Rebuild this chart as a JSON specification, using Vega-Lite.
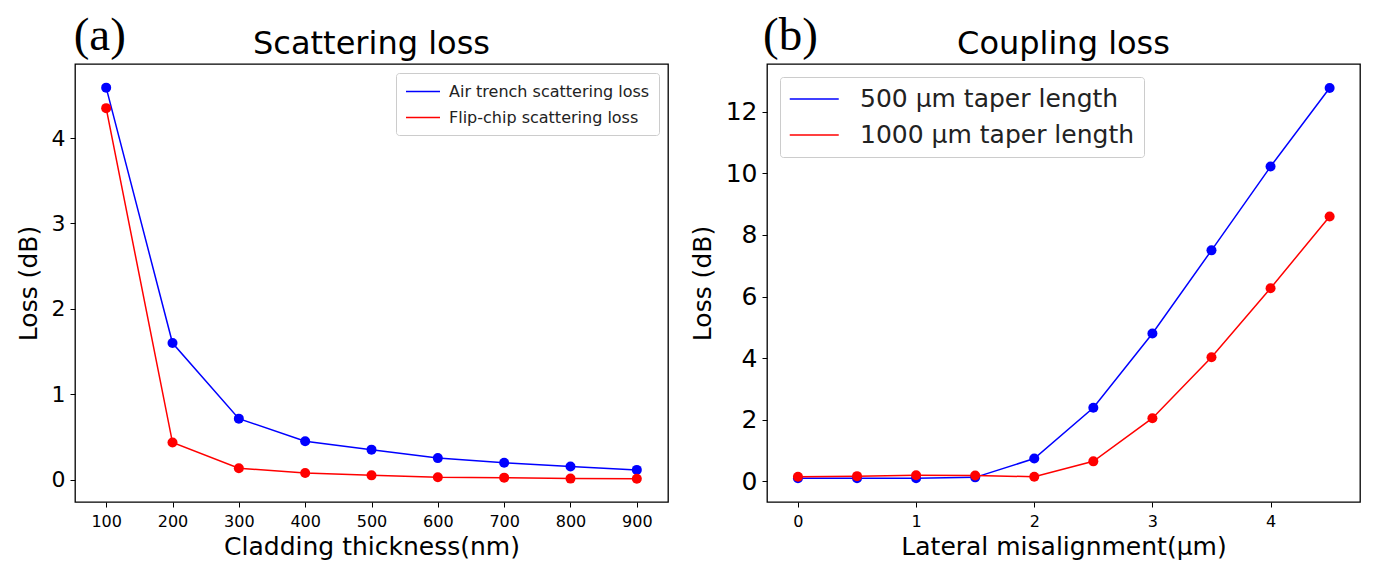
{
  "$schema": "https://vega.github.io/schema/vega-lite/v6.json",
  "background": "white",
  "padding": {"left": 15, "top": 11, "right": 5, "bottom": 5},
  "spacing": 20,
  "resolve": {"scale": {"color": "independent"}, "legend": {"color": "independent"}},
  "config": {
    "font": "DejaVu Sans",
    "view": {"stroke": "black", "strokeWidth": 1.3},
    "axis": {"domain": false, "grid": false, "tickColor": "black", "tickSize": 5, "tickWidth": 1, "labelColor": "black", "titleColor": "black", "labelFont": "DejaVu Sans", "titleFont": "DejaVu Sans", "titleFontWeight": "normal", "labelPadding": 4, "titleFontSize": 25, "format": "d"},
    "title": {"font": "DejaVu Sans", "fontWeight": "normal", "fontSize": 32, "color": "black", "baseline": "alphabetic", "offset": -49}
  },
  "hconcat": [
    {
      "width": 593,
      "height": 438,
      "title": {"text": "Scattering loss", "frame": "group"},
      "data": {"values": [
        {"thickness": 100, "loss": 4.59, "series": "Air trench scattering loss"},
        {"thickness": 200, "loss": 1.60, "series": "Air trench scattering loss"},
        {"thickness": 300, "loss": 0.715, "series": "Air trench scattering loss"},
        {"thickness": 400, "loss": 0.45, "series": "Air trench scattering loss"},
        {"thickness": 500, "loss": 0.352, "series": "Air trench scattering loss"},
        {"thickness": 600, "loss": 0.253, "series": "Air trench scattering loss"},
        {"thickness": 700, "loss": 0.198, "series": "Air trench scattering loss"},
        {"thickness": 800, "loss": 0.154, "series": "Air trench scattering loss"},
        {"thickness": 900, "loss": 0.115, "series": "Air trench scattering loss"},
        {"thickness": 100, "loss": 4.35, "series": "Flip-chip scattering loss"},
        {"thickness": 200, "loss": 0.435, "series": "Flip-chip scattering loss"},
        {"thickness": 300, "loss": 0.134, "series": "Flip-chip scattering loss"},
        {"thickness": 400, "loss": 0.079, "series": "Flip-chip scattering loss"},
        {"thickness": 500, "loss": 0.051, "series": "Flip-chip scattering loss"},
        {"thickness": 600, "loss": 0.028, "series": "Flip-chip scattering loss"},
        {"thickness": 700, "loss": 0.024, "series": "Flip-chip scattering loss"},
        {"thickness": 800, "loss": 0.013, "series": "Flip-chip scattering loss"},
        {"thickness": 900, "loss": 0.012, "series": "Flip-chip scattering loss"}
      ]},
      "layer": [
        {"mark": {"type": "line", "strokeWidth": 1.5},
         "encoding": {
           "x": {"field": "thickness", "type": "quantitative", "scale": {"domain": [53, 947], "nice": false, "zero": false},
                 "axis": {"values": [100, 200, 300, 400, 500, 600, 700, 800, 900], "format": "d", "title": "Cladding thickness(nm)", "labelFontSize": 16, "labelPadding": 6, "titlePadding": 5}},
           "y": {"field": "loss", "type": "quantitative", "scale": {"domain": [-0.261, 4.867], "nice": false, "zero": false},
                 "axis": {"values": [0, 1, 2, 3, 4], "format": "d", "title": "Loss (dB)", "labelFontSize": 22, "labelPadding": 5, "titlePadding": 10}},
           "color": {"field": "series", "type": "nominal",
           "scale": {"domain": ["Air trench scattering loss", "Flip-chip scattering loss"], "range": ["#0000ff", "#ff0000"]},
           "legend": {"title": null, "orient": "top-right", "offset": 9, "symbolType": "M-1,0H3", "symbolSize": 289, "symbolStrokeWidth": 1.5, "labelFontSize": 16, "labelColor": "#222222", "labelOffset": 25, "labelLimit": 400, "rowPadding": 8, "padding": 9, "fillColor": "white", "strokeColor": "#cccccc", "cornerRadius": 3}}}},
        {"mark": {"type": "point", "filled": true, "size": 100, "opacity": 1},
         "encoding": {
           "x": {"field": "thickness", "type": "quantitative"},
           "y": {"field": "loss", "type": "quantitative"},
           "color": {"field": "series", "type": "nominal"}}},
        {"data": {"values": [{"label": "(a)"}]},
         "mark": {"type": "text", "font": "Liberation Serif", "fontSize": 47, "align": "left", "baseline": "alphabetic", "color": "black", "clip": false},
         "encoding": {"x": {"datum": 51, "type": "quantitative"}, "y": {"datum": 5.035, "type": "quantitative"}, "text": {"field": "label"}}}
      ]
    },
    {
      "width": 593,
      "height": 438,
      "title": {"text": "Coupling loss", "frame": "group"},
      "data": {"values": [
        {"offset": 0, "loss": 0.10, "series": "500 µm taper length"},
        {"offset": 0.5, "loss": 0.10, "series": "500 µm taper length"},
        {"offset": 1, "loss": 0.10, "series": "500 µm taper length"},
        {"offset": 1.5, "loss": 0.13, "series": "500 µm taper length"},
        {"offset": 2, "loss": 0.74, "series": "500 µm taper length"},
        {"offset": 2.5, "loss": 2.39, "series": "500 µm taper length"},
        {"offset": 3, "loss": 4.80, "series": "500 µm taper length"},
        {"offset": 3.5, "loss": 7.50, "series": "500 µm taper length"},
        {"offset": 4, "loss": 10.22, "series": "500 µm taper length"},
        {"offset": 4.5, "loss": 12.77, "series": "500 µm taper length"},
        {"offset": 0, "loss": 0.15, "series": "1000 µm taper length"},
        {"offset": 0.5, "loss": 0.17, "series": "1000 µm taper length"},
        {"offset": 1, "loss": 0.20, "series": "1000 µm taper length"},
        {"offset": 1.5, "loss": 0.19, "series": "1000 µm taper length"},
        {"offset": 2, "loss": 0.15, "series": "1000 µm taper length"},
        {"offset": 2.5, "loss": 0.65, "series": "1000 µm taper length"},
        {"offset": 3, "loss": 2.05, "series": "1000 µm taper length"},
        {"offset": 3.5, "loss": 4.03, "series": "1000 µm taper length"},
        {"offset": 4, "loss": 6.27, "series": "1000 µm taper length"},
        {"offset": 4.5, "loss": 8.60, "series": "1000 µm taper length"}
      ]},
      "layer": [
        {"mark": {"type": "line", "strokeWidth": 1.5},
         "encoding": {
           "x": {"field": "offset", "type": "quantitative", "scale": {"domain": [-0.262, 4.757], "nice": false, "zero": false},
                 "axis": {"values": [0, 1, 2, 3, 4], "format": "d", "title": "Lateral misalignment(µm)", "labelFontSize": 16, "labelPadding": 6, "titlePadding": 5}},
           "y": {"field": "loss", "type": "quantitative", "scale": {"domain": [-0.67, 13.55], "nice": false, "zero": false},
                 "axis": {"values": [0, 2, 4, 6, 8, 10, 12], "format": "d", "title": "Loss (dB)", "labelFontSize": 25, "labelPadding": 5, "titlePadding": 10}},
           "color": {"field": "series", "type": "nominal",
           "scale": {"domain": ["500 µm taper length", "1000 µm taper length"], "range": ["#0000ff", "#ff0000"]},
           "legend": {"title": null, "orient": "top-left", "offset": 13, "symbolType": "M-1,0H3", "symbolSize": 600, "symbolStrokeWidth": 1.5, "labelFontSize": 25, "labelColor": "#222222", "labelOffset": 45, "labelLimit": 400, "rowPadding": 10, "padding": 9, "fillColor": "white", "strokeColor": "#cccccc", "cornerRadius": 3}}}},
        {"mark": {"type": "point", "filled": true, "size": 100, "opacity": 1},
         "encoding": {
           "x": {"field": "offset", "type": "quantitative"},
           "y": {"field": "loss", "type": "quantitative"},
           "color": {"field": "series", "type": "nominal"}}},
        {"data": {"values": [{"label": "(b)"}]},
         "mark": {"type": "text", "font": "Liberation Serif", "fontSize": 47, "align": "left", "baseline": "alphabetic", "color": "black", "clip": false},
         "encoding": {"x": {"datum": -0.295, "type": "quantitative"}, "y": {"datum": 14.015, "type": "quantitative"}, "text": {"field": "label"}}}
      ]
    }
  ]
}
